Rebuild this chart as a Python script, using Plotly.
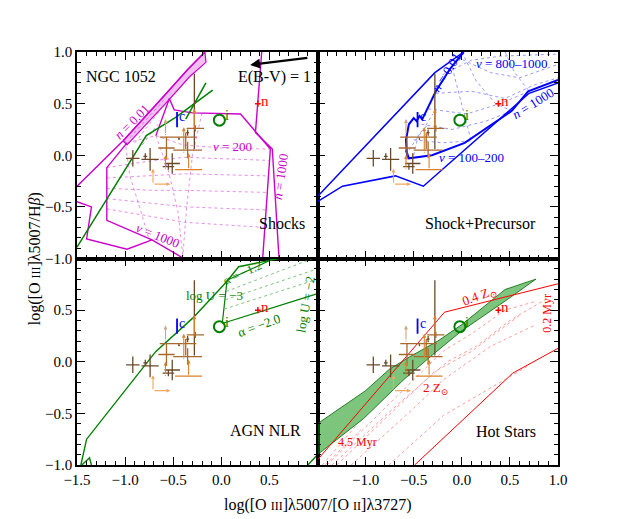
import plotly.graph_objects as go
from plotly.subplots import make_subplots

# ---------------- observed points (same in every panel) ----------------
DARK_X    = [-0.92, -0.79, -0.74, -0.51, -0.55, -0.28, -0.44, -0.35]
DARK_Y    = [-0.03, -0.01, -0.04, -0.08, -0.11, 0.27, 0.16, 0.22]
DARK_XERR = [0.07, 0.02, 0.09, 0.08, 0.06, 0.0, 0.005, 0.015]
DARK_YUP  = [0.08, 0.03, 0.11, 0.10, 0.03, 0.52, 0.01, 0.03]
DARK_YDN  = [0.08, 0.03, 0.11, 0.10, 0.03, 0.21, 0.01, 0.03]

MED_X    = [-0.57, -0.45, -0.35, -0.27, -0.37]
MED_Y    = [0.07, 0.175, 0.05, 0.26, 0.14]
MED_XERR = [0.085, 0.19, 0.15, 0.09, 0.0]
MED_YERR = [0.11, 0.0, 0.08, 0.03, 0.08]

LIM_X    = [-0.58, -0.58, -0.34, -0.39, -0.28]
LIM_Y    = [0.20, -0.13, -0.14, 0.03, 0.25]
LIM_TO   = [0.35, 0.00, 0.02, 0.27, 0.45]
LIM_XERR = [0.0, 0.0, 0.14, 0.0, 0.0]
LIM_COL  = ["#cfa47a", "#d9822b", "#d9822b", "#d9822b", "#d9822b"]

LL_X, LL_Y, LL_XTO, LL_YTO = -0.71, -0.28, -0.53, -0.13

C_X, C_Y, C_YERR = -0.46, 0.345, 0.075
I_X, I_Y = -0.02, 0.34
N_X, N_Y, N_ERR = 0.38, 0.50, 0.03

# ---------------- Shocks (magenta) ----------------
SH_N001_X = [-1.5, -1.02, -0.60, -0.35, -0.17]
SH_N001_Y = [-0.30, 0.14, 0.57, 0.83, 1.0]
SH_BAND_X = [-1.02, -0.60, -0.35, -0.17, -0.16, -0.33, -0.58, -0.98, -1.02]
SH_BAND_Y = [0.14, 0.57, 0.83, 1.0, 0.90, 0.76, 0.50, 0.10, 0.14]
SH_LEFT_X = [-0.98, -1.19, -1.19, -0.72, -0.39]
SH_LEFT_Y = [0.12, -0.12, -0.63, -0.82, -1.0]
SH_LOW_X = [-1.5, -1.35, -1.40, -0.98, -0.72]
SH_LOW_Y = [-0.45, -0.50, -0.81, -0.91, -0.82]
SH_TOP_X = [-0.68, -0.54, -0.49, -0.30, 0.20, 0.51, 0.43]
SH_TOP_Y = [0.19, 0.55, 0.44, 0.41, 0.40, 0.06, -1.0]
SH_RIGHT_X = [0.42, 0.355, 0.53, 0.60]
SH_RIGHT_Y = [1.0, 0.22, 0.06, -1.0]
SH_DOT_X = [
    [-0.68, -0.40, 0.0, 0.51],
    [-1.19, -0.70, -0.38, 0.50],
    [-1.19, -0.70, -0.37, 0.49],
    [-1.19, -0.70, -0.37, 0.48],
    [-1.19, -0.70, -0.37, 0.47],
    [-1.19, -0.70, -0.37, 0.46],
    [-1.00, -0.95, -0.85, -0.75],
    [-0.68, -0.55, -0.45, -0.40],
    [-0.20, -0.30, -0.36, -0.40],
    [-0.95, -0.60],
    [-0.90, -0.63],
    [-0.82, -0.66],
    [-0.98, -0.68],
]
SH_DOT_Y = [
    [0.19, 0.10, 0.07, 0.06],
    [-0.12, -0.05, -0.02, -0.05],
    [-0.22, -0.20, -0.18, -0.20],
    [-0.32, -0.34, -0.34, -0.36],
    [-0.42, -0.47, -0.50, -0.53],
    [-0.52, -0.60, -0.65, -0.70],
    [0.14, -0.20, -0.50, -0.82],
    [0.19, -0.15, -0.55, -0.98],
    [0.41, 0.0, -0.5, -0.98],
    [0.17, 0.53],
    [0.12, 0.44],
    [0.10, 0.30],
    [0.12, 0.19],
]
SH_AGN_X = [-1.5, -0.78, -0.47, -0.09]
SH_AGN_Y = [-0.89, 0.19, 0.37, 0.63]
SH_AGN2_X = [-0.37, -0.16]
SH_AGN2_Y = [0.35, 0.70]
EBV_FROM = (0.91, 0.945)
EBV_TO = (0.30, 0.875)

# ---------------- Shock + Precursor (blue) ----------------
SP_OUT_X = [-1.5, -0.28, 0.02]
SP_OUT_Y = [-0.40, 0.80, 1.0]
SP_LOW_X = [-1.5, -1.24, -0.69, -0.40, 0.70, 1.0]
SP_LOW_Y = [-0.45, -0.30, -0.20, -0.30, 0.60, 0.70]
SP_N1000_X = [-0.58, -0.55, -0.31, 0.03, 0.52, 0.69, 1.0]
SP_N1000_Y = [0.05, -0.03, 0.0, 0.12, 0.43, 0.62, 0.73]
SP_N001_X = [0.02, -0.12, -0.27, -0.38, -0.41, -0.44, -0.47, -0.50, -0.55, -0.58, -0.57, -0.55]
SP_N001_Y = [1.0, 0.84, 0.62, 0.42, 0.35, 0.38, 0.33, 0.36, 0.30, 0.15, 0.0, -0.03]
SP_DOT_X = [
    [-0.27, 0.10, 0.45, 0.75, 1.0],
    [-0.35, 0.05, 0.40, 0.70],
    [-0.42, -0.10, 0.25, 0.52],
    [-0.50, -0.20, 0.10],
    [-0.20, 0.10, 0.40, 1.0],
    [-0.05, 0.30, 0.60, 1.0],
    [0.0, 0.15, 0.35, 0.52],
    [0.45, 0.55, 0.70],
    [-0.10, 0.00, 0.10],
    [-0.55, -0.40, -0.30],
    [-0.50, -0.45, -0.35],
]
SP_DOT_Y = [
    [0.60, 0.62, 0.55, 0.68, 0.75],
    [0.45, 0.40, 0.50, 0.62],
    [0.30, 0.25, 0.33, 0.43],
    [0.15, 0.12, 0.14],
    [0.78, 0.92, 0.96, 0.98],
    [0.95, 0.80, 0.75, 0.88],
    [1.0, 0.72, 0.50, 0.43],
    [1.0, 0.80, 0.62],
    [0.85, 0.50, 0.13],
    [0.05, 0.25, 0.40],
    [0.0, 0.20, 0.30],
]

# ---------------- AGN NLR (green) ----------------
AGN_MAIN_X = [-1.46, -1.40, -0.68, -0.30, 0.06, 0.18, 0.60]
AGN_MAIN_Y = [-1.0, -0.75, 0.10, 0.42, 0.78, 0.92, 1.0]
AGN_SMALL_X = [-1.45, -1.37, -1.35]
AGN_SMALL_Y = [-1.0, -0.93, -1.0]
AGN_BR_X = [0.90, 1.0]
AGN_BR_Y = [-1.0, -0.90]
AGN_A12_X = [0.06, 0.55]
AGN_A12_Y = [0.79, 1.0]
AGN_U3_X = [0.06, 0.01]
AGN_U3_Y = [0.79, 0.37]
AGN_A20_X = [0.01, 1.0]
AGN_A20_Y = [0.37, 0.66]
AGN_DOT_X = [[0.05, 0.95], [0.04, 1.0], [0.03, 1.0]]
AGN_DOT_Y = [[0.68, 1.0], [0.60, 0.90], [0.51, 0.80]]

# ---------------- Hot stars (red + green band) ----------------
HS_UP_X = [-1.5, -1.0, -0.75, -0.5, -0.25, 0.0, 0.45, 0.77]
HS_UP_Y = [-0.60, -0.28, -0.07, 0.07, 0.20, 0.36, 0.70, 0.80]
HS_LO_X = [-1.5, -1.02, -0.6, -0.3, 0.0, 0.5, 0.77]
HS_LO_Y = [-0.90, -0.55, -0.17, 0.07, 0.30, 0.62, 0.80]
HS_R1_X = [-1.5, -0.18, 1.0]
HS_R1_Y = [-0.95, 0.48, 0.755]
HS_R2_X = [-0.49, 0.53, 1.0]
HS_R2_Y = [-1.0, -0.11, 0.13]
HS_DOT_X = [
    [-1.40, -0.75, -0.20, 0.10, 0.45, 0.75],
    [-1.35, -0.65, -0.15, 0.15, 0.50, 0.90],
    [-1.30, -0.60, -0.29, 0.10, 0.60],
    [-1.15, -0.50, -0.20, 0.30, 0.75],
    [-0.76, -0.19, 0.71],
    [-1.45, -1.10],
    [-1.42, -1.05],
]
HS_DOT_Y = [
    [-1.0, -0.40, 0.10, 0.27, 0.50, 0.58],
    [-1.0, -0.40, 0.0, 0.15, 0.40, 0.62],
    [-1.0, -0.38, -0.10, 0.10, 0.45],
    [-1.0, -0.45, -0.18, 0.15, 0.35],
    [-1.0, -0.52, -0.03],
    [-1.0, -0.62],
    [-1.0, -0.66],
]

MAG = "#cc00cc"
BLUE = "#0000ff"
GREEN = "#008000"
RED = "#ff0000"
FONT = "Liberation Serif, DejaVu Serif, serif"

fig = make_subplots(rows=2, cols=2, horizontal_spacing=0, vertical_spacing=0)
REFS = {(1, 1): ("x", "y"), (1, 2): ("x2", "y2"), (2, 1): ("x3", "y3"), (2, 2): ("x4", "y4")}


def line(xs, ys, r, c, color, width=1.5, dash="solid", opacity=1.0, fill=None, fillcolor=None):
    fig.add_trace(go.Scatter(x=xs, y=ys, mode="lines", line=dict(color=color, width=width, dash=dash),
                             opacity=opacity, fill=fill, fillcolor=fillcolor, showlegend=False,
                             hoverinfo="skip"), row=r, col=c)


def text(t, x, y, r, c, color="black", size=12, angle=0, xanchor="center"):
    xr, yr = REFS[(r, c)]
    fig.add_annotation(text=t, x=x, y=y, xref=xr, yref=yr, showarrow=False, textangle=angle,
                       xanchor=xanchor, yanchor="middle", font=dict(family=FONT, size=size, color=color))


def arrow(x0, y0, x1, y1, r, c, color, width=1.0, size=1.0):
    xr, yr = REFS[(r, c)]
    fig.add_annotation(x=x1, y=y1, ax=x0, ay=y0, xref=xr, yref=yr, axref=xr, ayref=yr,
                       showarrow=True, arrowhead=2, arrowsize=size, arrowwidth=width,
                       arrowcolor=color, text="")


# ---- Shocks panel ----
line(SH_BAND_X, SH_BAND_Y, 1, 1, MAG, 1.2, fill="toself", fillcolor="rgba(204,0,204,0.25)")
line(SH_N001_X, SH_N001_Y, 1, 1, MAG, 1.5)
line(SH_LEFT_X, SH_LEFT_Y, 1, 1, MAG, 1.4)
line(SH_LOW_X, SH_LOW_Y, 1, 1, MAG, 1.4)
line(SH_TOP_X, SH_TOP_Y, 1, 1, MAG, 1.4)
line(SH_RIGHT_X, SH_RIGHT_Y, 1, 1, MAG, 1.4)
for xs, ys in zip(SH_DOT_X, SH_DOT_Y):
    line(xs, ys, 1, 1, MAG, 0.8, "dot", 0.55)
line(SH_AGN_X, SH_AGN_Y, 1, 1, GREEN, 1.5)
line(SH_AGN2_X, SH_AGN2_Y, 1, 1, GREEN, 1.5)
arrow(EBV_FROM[0], EBV_FROM[1], EBV_TO[0], EBV_TO[1], 1, 1, "black", 2.2, 0.9)
text("NGC 1052", -1.04, 0.76, 1, 1, size=16)
text("E(B-V) = 1", 0.55, 0.76, 1, 1, size=16)
text("<i>n</i> = 0.01", -0.93, 0.33, 1, 1, MAG, 13, -45)
text("<i>v</i> = 200", 0.12, 0.08, 1, 1, MAG, 13)
text("<i>v</i> = 1000", -0.66, -0.78, 1, 1, MAG, 13, 22)
text("<i>n</i> = 1000", 0.62, -0.21, 1, 1, MAG, 13, -82)
text("Shocks", 0.63, -0.66, 1, 1, size=16)

# ---- Shock+Precursor panel ----
line(SP_OUT_X, SP_OUT_Y, 1, 2, BLUE, 1.5)
line(SP_LOW_X, SP_LOW_Y, 1, 2, BLUE, 1.5)
line(SP_N1000_X, SP_N1000_Y, 1, 2, BLUE, 2.0)
line(SP_N001_X, SP_N001_Y, 1, 2, BLUE, 2.0)
for xs, ys in zip(SP_DOT_X, SP_DOT_Y):
    line(xs, ys, 1, 2, BLUE, 0.8, "dot", 0.5)
text("<i>n</i> = 0.01", -0.16, 0.80, 1, 2, BLUE, 13, -58)
text("<i>v</i> = 800–1000", 0.52, 0.89, 1, 2, BLUE, 13)
text("<i>n</i> = 1000", 0.74, 0.50, 1, 2, BLUE, 13, -32)
text("<i>v</i> = 100–200", 0.10, -0.02, 1, 2, BLUE, 13)
text("Shock+Precursor", 0.19, -0.66, 1, 2, size=16)

# ---- AGN panel ----
line(AGN_MAIN_X, AGN_MAIN_Y, 2, 1, GREEN, 1.4)
line(AGN_SMALL_X, AGN_SMALL_Y, 2, 1, GREEN, 1.4)
line(AGN_BR_X, AGN_BR_Y, 2, 1, GREEN, 1.4)
line(AGN_A12_X, AGN_A12_Y, 2, 1, GREEN, 1.2)
line(AGN_U3_X, AGN_U3_Y, 2, 1, GREEN, 1.2)
line(AGN_A20_X, AGN_A20_Y, 2, 1, GREEN, 1.2)
for xs, ys in zip(AGN_DOT_X, AGN_DOT_Y):
    line(xs, ys, 2, 1, "#55aa55", 0.9, "dot", 0.8)
text("α = −1.2", 0.22, 0.86, 2, 1, GREEN, 12, -24)
text("log U = −3", -0.07, 0.64, 2, 1, GREEN, 13)
text("α = −2.0", 0.39, 0.35, 2, 1, GREEN, 13, -20)
text("log U = −2", 0.88, 0.56, 2, 1, GREEN, 13, -80)
text("AGN NLR", 0.46, -0.67, 2, 1, size=16)

# ---- Hot stars panel ----
line(HS_UP_X + HS_LO_X[::-1], HS_UP_Y + HS_LO_Y[::-1], 2, 2, "#006600", 0.8,
     fill="toself", fillcolor="rgba(0,140,0,0.5)")
line(HS_R1_X, HS_R1_Y, 2, 2, RED, 1.0)
line(HS_R2_X, HS_R2_Y, 2, 2, RED, 1.0)
for xs, ys in zip(HS_DOT_X, HS_DOT_Y):
    line(xs, ys, 2, 2, "#ff6666", 0.8, "dot", 0.8)
text("0.4 Z<sub>⊙</sub>", 0.18, 0.63, 2, 2, RED, 13, -20)
text("0.2 Myr", 0.89, 0.47, 2, 2, RED, 12, -90)
text("2 Z<sub>⊙</sub>", -0.27, -0.26, 2, 2, RED, 13)
text("4.5 Myr", -1.08, -0.78, 2, 2, RED, 12)
text("Hot Stars", 0.46, -0.68, 2, 2, size=16)

# ---- observed points in every panel ----
for (r, c) in REFS:
    fig.add_trace(go.Scatter(x=DARK_X, y=DARK_Y, mode="markers", marker=dict(size=1, color="#6b4a2a"),
                             error_x=dict(type="data", array=DARK_XERR, width=0, thickness=1.3, color="#6b4a2a"),
                             error_y=dict(type="data", array=DARK_YUP, arrayminus=DARK_YDN, symmetric=False,
                                          width=0, thickness=1.3, color="#6b4a2a"),
                             showlegend=False, hoverinfo="skip"), row=r, col=c)
    fig.add_trace(go.Scatter(x=MED_X, y=MED_Y, mode="markers", marker=dict(size=1, color="#a8692e"),
                             error_x=dict(type="data", array=MED_XERR, width=0, thickness=1.3, color="#a8692e"),
                             error_y=dict(type="data", array=MED_YERR, width=0, thickness=1.3, color="#a8692e"),
                             showlegend=False, hoverinfo="skip"), row=r, col=c)
    fig.add_trace(go.Scatter(x=LIM_X, y=LIM_Y, mode="markers", marker=dict(size=1, color="#d9822b"),
                             error_x=dict(type="data", array=LIM_XERR, width=0, thickness=1.3, color="#d9822b"),
                             showlegend=False, hoverinfo="skip"), row=r, col=c)
    for x0, y0, y1, col in zip(LIM_X, LIM_Y, LIM_TO, LIM_COL):
        arrow(x0, y0, x0, y1, r, c, col, 1.1, 0.7)
    arrow(LL_X, LL_Y, LL_X, LL_YTO, r, c, "#f0a860", 1.1, 0.7)
    arrow(LL_X, LL_Y, LL_XTO, LL_Y, r, c, "#f0a860", 1.1, 0.7)
    # c (blue)
    fig.add_trace(go.Scatter(x=[C_X], y=[C_Y], mode="markers", marker=dict(size=1, color=BLUE),
                             error_y=dict(type="data", array=[C_YERR], width=0, thickness=1.8, color=BLUE),
                             showlegend=False, hoverinfo="skip"), row=r, col=c)
    text("c", C_X + 0.055, C_Y + 0.03, r, c, BLUE, 14)
    # i (green circle)
    fig.add_trace(go.Scatter(x=[I_X], y=[I_Y], mode="markers",
                             marker=dict(size=11, color="rgba(0,0,0,0)", line=dict(color=GREEN, width=2)),
                             showlegend=False, hoverinfo="skip"), row=r, col=c)
    text("i", I_X + 0.075, I_Y + 0.045, r, c, GREEN, 14)
    # n (red)
    fig.add_trace(go.Scatter(x=[N_X], y=[N_Y], mode="markers", marker=dict(size=1, color=RED),
                             error_x=dict(type="data", array=[N_ERR], width=0, thickness=1.5, color=RED),
                             error_y=dict(type="data", array=[N_ERR], width=0, thickness=1.5, color=RED),
                             showlegend=False, hoverinfo="skip"), row=r, col=c)
    text("n", N_X + 0.07, N_Y + 0.03, r, c, RED, 15)

# ---- axes ----
XT = [-1.5, -1.0, -0.5, 0.0, 0.5, 1.0]
YT = [-1.0, -0.5, 0.0, 0.5, 1.0]
XLAB_L = ["−1.5", "−1.0", "−0.5", "0.0", "0.5", ""]
XLAB_R = ["", "−1.0", "−0.5", "0.0", "0.5", "1.0"]
YLAB_T = ["−1.0", "−0.5", "0.0", "0.5", "1.0"]
YLAB_B = ["−1.0", "−0.5", "0.0", "0.5", ""]

common = dict(showline=True, linecolor="black", linewidth=1.5, mirror="allticks", ticks="inside",
              ticklen=8, tickwidth=1.3, tickcolor="black", showgrid=False, zeroline=False,
              minor=dict(ticks="inside", ticklen=4, tickwidth=1, tickcolor="black", dtick=0.1, tick0=0,
                         showgrid=False),
              tickfont=dict(family=FONT, size=15, color="black"))
for (r, c) in REFS:
    fig.update_xaxes(range=[-1.5, 1.0], tickvals=XT, ticktext=(XLAB_L if c == 1 else XLAB_R),
                     showticklabels=(r == 2), row=r, col=c, **common)
    fig.update_yaxes(range=[-1.0, 1.0], tickvals=YT, ticktext=(YLAB_T if r == 1 else YLAB_B),
                     showticklabels=(c == 1), row=r, col=c, **common)

fig.add_annotation(text="log([O <span style='font-size:12px'>III</span>]λ5007/H<i>β</i>)", x=-0.088, y=0.5,
                   xref="paper", yref="paper", showarrow=False, textangle=-90,
                   xanchor="center", yanchor="middle",
                   font=dict(family=FONT, size=16, color="black"))
fig.add_annotation(text="log([O <span style='font-size:12px'>III</span>]λ5007/[O <span style='font-size:12px'>II</span>]λ3727)",
                   x=0.5, y=-0.097, xref="paper", yref="paper", showarrow=False,
                   xanchor="center", yanchor="middle",
                   font=dict(family=FONT, size=16, color="black"))

fig.update_layout(width=623, height=519, margin=dict(l=69, r=73, t=44, b=62),
                  plot_bgcolor="white", paper_bgcolor="white", showlegend=False)
fig.write_html("out.html")
